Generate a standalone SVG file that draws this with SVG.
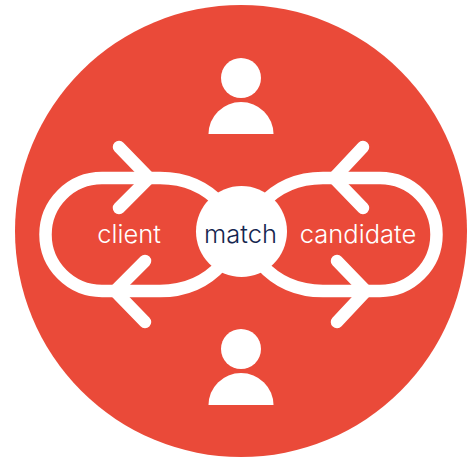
<svg xmlns="http://www.w3.org/2000/svg" width="468" height="457" viewBox="0 0 468 457">
<style>
.loop{fill:none;stroke:#fff;stroke-width:12.5;stroke-linecap:round;stroke-linejoin:miter}
.arm{fill:none;stroke:#fff;stroke-width:12.5;stroke-linecap:round}
.t{font-family:"Inter","Liberation Sans",sans-serif;font-size:25.500px;font-weight:300;text-anchor:middle}
.person{fill:#fff}
</style>
<defs>
<g id="p"><circle cx="241" cy="0" r="20"/><path d="M208.500 56A32.500 32 0 0 1 273.500 56Z"/></g>
</defs>
<rect width="468" height="457" fill="#fff"/>
<circle id="bg" cx="241" cy="231" r="226" fill="#ea4a39"/>
<g id="connectors">
<path class="loop" d="M222 205C206 187 186 178 160 178H102A56.500 56.500 0 0 0 102 291H160C186 291 206 282 222 264"/>
<path class="loop" d="M261 205C277 187 297 178 323 178H380A56.500 56.500 0 0 1 380 291H323C297 291 277 282 261 264"/>
<path class="arm" d="M119 147L149 178L119 208"/>
<path class="arm" d="M145 261L115 291L145 322"/>
<path class="arm" d="M363 147L334 178L363 208"/>
<path class="arm" d="M337 261L366 291L337 322"/>
</g>
<g id="person-top" class="person"><use href="#p" y="78"/></g>
<g id="person-bottom" class="person"><use href="#p" y="349"/></g>
<g id="client"><text class="t" x="129" y="243" fill="#fff">client</text></g>
<g id="candidate"><text class="t" x="358" y="243" fill="#fff">candidate</text></g>
<g id="match"><circle cx="241.500" cy="231.500" r="45.500" fill="#fff"/><text class="t" x="240.500" y="243" fill="#16264f">match</text></g>
</svg>
